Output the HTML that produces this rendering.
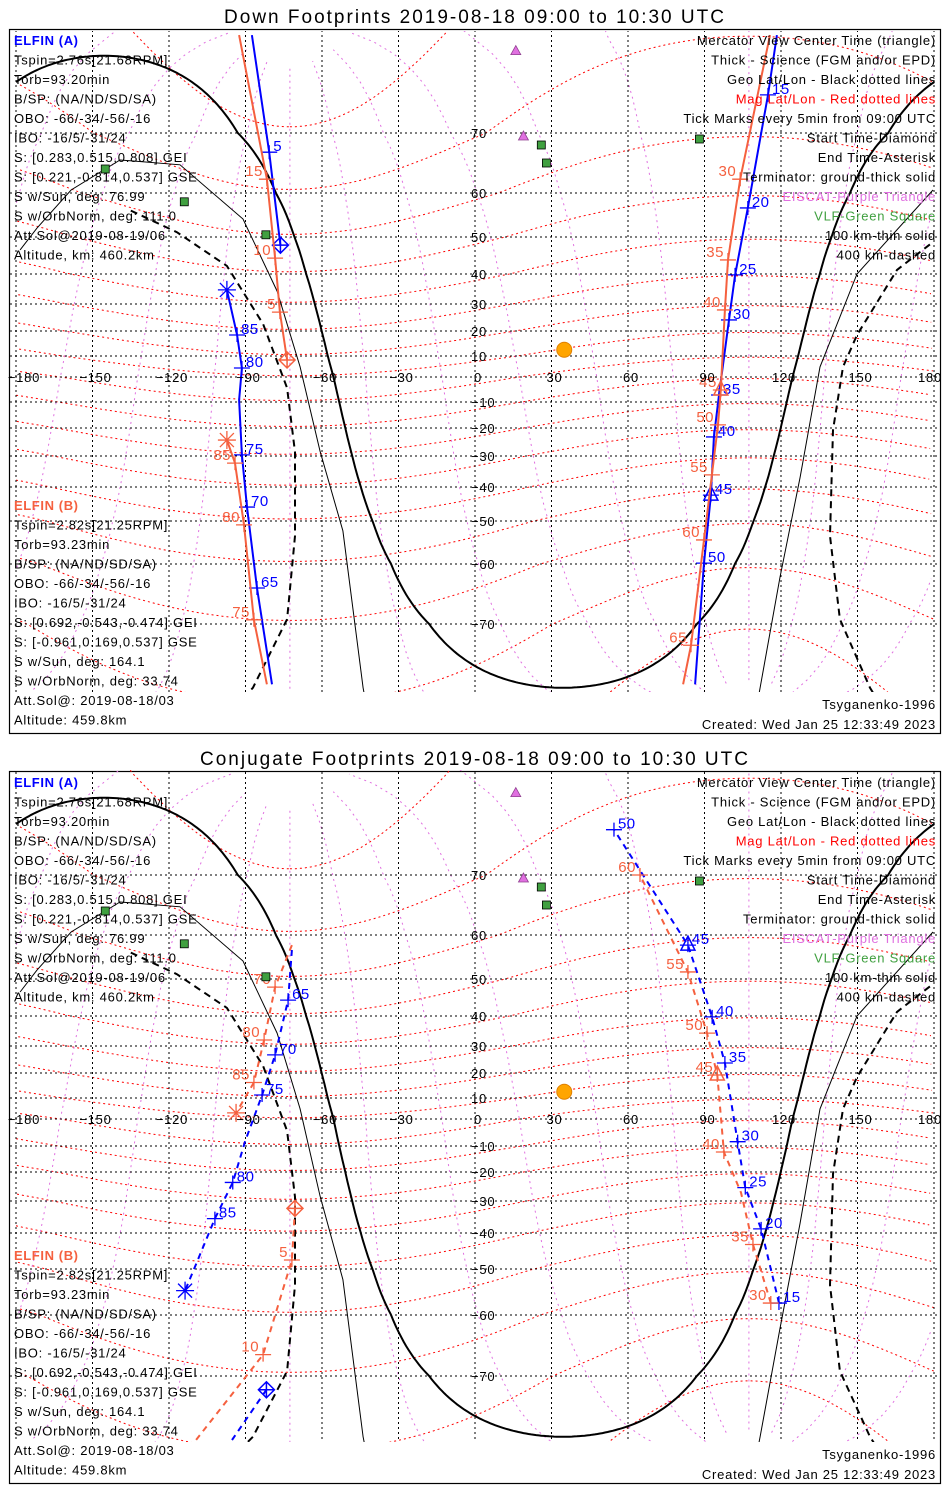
<!DOCTYPE html>
<html><head><meta charset="utf-8">
<style>
html,body{margin:0;padding:0;background:#fff;width:950px;height:1500px;overflow:hidden;}
svg{display:block;font-family:"Liberation Sans",sans-serif;}
.t{font-size:13px;fill:#000;letter-spacing:0.75px;}
.r{text-anchor:end;}
</style></head>
<body>
<svg id="chart" width="950" height="1500" viewBox="0 0 950 1500">
<defs>
<clipPath id="clipTop"><rect x="10" y="31" width="930" height="661"/></clipPath>
<clipPath id="clipBot"><rect x="10" y="770" width="930" height="672"/></clipPath>
</defs>
<g id="panels"></g>
</svg>
<script>
// ---- data ----
const latTicks=[-70,-60,-50,-40,-30,-20,-10,0,10,20,30,40,50,60,70];
const lonTicks=[-180,-150,-120,-90,-60,-30,0,30,60,90,120,150,180];
const sunLon=35, sunLat=12.5;
const termLon=34.5, termDecl=12.5;
const fsoatLon=[16,19], fsoatLat=[78,69.5];
const vlfLon=[26,28,-145,-114,-82,88], vlfLat=[68,65,64,58,50.5,69];
// 100 km (thin) and 400 km (dashed) terminator curves
const thinLeftLon=[-178.4,-171.8,-158.4,-139.2,-115.7,-91,-77.6,-68.6,-60.8,-51.8,-43.9,-40];
const thinLeftLat=[46.5,52,60.5,65.5,64.7,54.1,34.3,4.8,-28.2,-52.3,-77.5,-82];
const thinRightLon=[108,111.8,119.6,127.5,135.3,149.8,179.6];
const thinRightLat=[-82,-77.5,-62.2,-36.9,4.8,40,60.5];
const dashLeftLon=[-135,-116.9,-97.3,-83.1,-73.7,-70.6,-70.6,-73.7,-87.1,-95];
const dashLeftLat=[56,51.1,42.2,22.6,-4.4,-28.6,-53.5,-69.2,-77.5,-80];
const dashRightLon=[178.4,165.5,149.8,144.3,140.4,139.2,143.1,154.9,160];
const dashRightLat=[48,41.1,18.4,4.8,-20.7,-53.5,-69.2,-77.5,-80];
// top panel (down footprints) tracks: lon, lat, label
const topA=[
 {lon:[-76.3,-80.7,-87.5],lat:[47.8,66.8,79.5],lab:["","5",""]},
 {lon:[118.4,114.9,107,102,99.6,95.7,93.7,92.5,89.8,86.3],lat:[79.5,73.7,56.6,39.7,24.1,-7.2,-23.2,-42.4,-59.8,-77.1],lab:["","15","20","25","30","35","40","45","50",""]},
 {lon:[-79.6,-85.5,-89.4,-91.4,-92.5,-91.4,-93.3,-97.3],lat:[-77.1,-64,-45.9,-29.6,-9.2,4.3,18.4,34.7],lab:["","65","70","75","","80","85",""]}
];
const topB=[
 {lon:[-73.7,-76.5,-78.4,-81.6,-92.5],lat:[8.1,27,44.3,62.3,79.5],lab:["","5","10","15",""]},
 {lon:[115.7,104,99.2,98,96.4,95.3,92.9,89.8,84.7,81.6],lat:[79.5,62.3,43.8,27.8,-5.2,-18.8,-36.1,-54.4,-72.5,-77.1],lab:["","30","35","40","45","50","55","60","65",""]},
 {lon:[-81.6,-86.7,-90.6,-94.1,-97.3],lat:[-77.1,-69.3,-50.9,-32.3,-24.3],lab:["","75","80","85",""]}
];
// bottom panel (conjugate footprints)
const botA=[
 {lon:[-81.8,-95.3],lat:[-71.7,-77.9],lab:["",""]},
 {lon:[119.2,112.2,106,103,98,93,83.5,54.5],lat:[-57.4,-38.7,-25.4,-8.4,23.7,39.7,57.7,74.4],lab:["15","20","25","30","35","40","45","50"]},
 {lon:[-71.8,-73.3,-78.4,-83.5,-90.2,-95,-102,-113.7],lat:[56.6,44.3,26.7,11.2,-8.4,-23.6,-35.5,-54.7],lab:["","65","70","75","","80","85",""]}
];
const botB=[
 {lon:[-70.6,-71.8,-83.1,-109.4],lat:[-32.3,-47.5,-66.5,-77.9],lab:["","5","10",""]},
 {lon:[116,109,104.3,97.6,95,91,83.5,64.7],lat:[-57.4,-43.2,-27.1,-12.3,19.2,34.3,51.6,70],lab:["30","35","","40","45","50","55","60"]},
 {lon:[-71.8,-78.4,-82.7,-86.7,-93.7],lat:[57.7,47.8,32,16.2,2.9],lab:["","70","80","85",""]}
];
// latitude -> y tables (empirical projection, per panel)
const projLat=[90,80,70,60,50,40,30,20,10,0,-10,-20,-30,-40,-50,-60,-70,-80,-85,-90];
const projYTop=[-250,30,133,193,237,274,304,331,356,377,402,428,456,487,521,564,624,709,790,900];
const projYBot=[-250,30,133,193,237,274,304,331,356,377,404,430,459,491,527,573,634,715,790,900];
</script>
<script>
const NS="http://www.w3.org/2000/svg";
const R=Math.PI/180;
let projY=projYTop;
function X(lon){return 475+lon*2.55;}
function Yrel(lat){
  if(lat>=90)return projY[0];
  if(lat<=-90)return projY[projY.length-1];
  for(let i=0;i<projLat.length-1;i++){
    if(lat<=projLat[i]&&lat>=projLat[i+1]){
      const f=(projLat[i]-lat)/(projLat[i]-projLat[i+1]);
      return projY[i]+f*(projY[i+1]-projY[i]);
    }
  }
  return 0;
}
function mk(tag,attrs,parent){const e=document.createElementNS(NS,tag);for(const k in attrs)e.setAttribute(k,attrs[k]);parent.appendChild(e);return e;}
function pathFrom(pts,off){
  let d="",prev=null;
  pts.forEach(p=>{
    if(p===null){prev=null;return;}
    const x=X(p[0]).toFixed(1),y=(Yrel(p[1])+off).toFixed(1);
    if(prev&&Math.abs(p[0]-prev[0])<180)d+="L"+x+" "+y;else d+="M"+x+" "+y;
    prev=p;
  });
  return d;
}
function magToGeo(mlat,mlon){
  const th=(90-mlat)*R,ph=mlon*R,tp=9.4*R,lp=-72.6*R;
  let x=Math.sin(th)*Math.cos(ph),y=Math.sin(th)*Math.sin(ph),z=Math.cos(th);
  const x1=x*Math.cos(tp)+z*Math.sin(tp),z1=-x*Math.sin(tp)+z*Math.cos(tp),y1=y;
  const x2=x1*Math.cos(lp)-y1*Math.sin(lp),y2=x1*Math.sin(lp)+y1*Math.cos(lp);
  return [Math.atan2(y2,x2)/R,Math.asin(Math.max(-1,Math.min(1,z1)))/R];
}
function termPts(){
  const pts=[];
  for(let lon=-180;lon<=180;lon+=1){
    const v=-Math.cos((lon-termLon)*R)/Math.tan(termDecl*R);
    pts.push([lon,Math.atan(v)/R]);
  }
  return pts;
}
function zip(a,b){return a.map((v,i)=>[v,b[i]]);}
const leftA=["Tspin=2.76s[21.68RPM]","Torb=93.20min","B/SP: (NA/ND/SD/SA)","OBO: -66/-34/-56/-16","IBO: -16/5/-31/24","S: [0.283,0.515,0.808] GEI","S: [0.221,-0.814,0.537] GSE","S w/Sun, deg: 76.99","S w/OrbNorm, deg: 111.0","Att.Sol@2019-08-19/06","Altitude, km: 460.2km"];
const leftB=["Tspin=2.82s[21.25RPM]","Torb=93.23min","B/SP: (NA/ND/SD/SA)","OBO: -66/-34/-56/-16","IBO: -16/5/-31/24","S: [0.692,-0.543,-0.474] GEI","S: [-0.961,0.169,0.537] GSE","S w/Sun, deg: 164.1","S w/OrbNorm, deg: 33.74","Att.Sol@: 2019-08-18/03","Altitude: 459.8km"];
const rightT=[["Mercator View Center Time (triangle)","#000"],["Thick - Science (FGM and/or EPD)","#000"],["Geo Lat/Lon - Black dotted lines","#000"],["Mag Lat/Lon - Red dotted lines","#f00"],["Tick Marks every 5min from 09:00 UTC","#000"],["Start Time-Diamond","#000"],["End Time-Asterisk","#000"],["Terminator: ground-thick solid","#000"],["EISCAT-Purple Triangle","#e070e0"],["VLF-Green Square","#40a040"],["100 km-thin solid","#000"],["400 km-dashed","#000"]];

function drawPanel(name,top,title,trA,trB,clipId,mapBottom,dashed,table){
  projY=table;
  const root=document.getElementById("panels");
  const g=mk("g",{},root);
  
  
  const off=top-30;
  const tt=mk("text",{x:475,y:top-7,"text-anchor":"middle","font-size":"19","letter-spacing":"2"},g);
  tt.textContent=title;
  
  
  const frame=mk("rect",{x:9.5,y:top-0.5,width:931,height:(mapBottom-top)+42,fill:"none",stroke:"#000","stroke-width":1.2},g);
  
  
  const m=mk("g",{"clip-path":"url(#"+clipId+")"},g);
  
  
  for(let ml=-80;ml<=80;ml+=10){
    const pts=[];for(let mo=0;mo<=360;mo+=2)pts.push(magToGeo(ml,mo));
    const p=mk("path",{d:pathFrom(pts,off),fill:"none",stroke:"#f00","stroke-width":1,"stroke-dasharray":"2 3"},m);
    
    
  }
  for(let mo=0;mo<360;mo+=30){
    const pts=[];for(let ml=-86;ml<=86;ml+=2)pts.push(magToGeo(ml,mo));
    const p=mk("path",{d:pathFrom(pts,off),fill:"none",stroke:"#e070e0","stroke-width":1,"stroke-dasharray":"2 4"},m);
    
    
  }
  latTicks.forEach(la=>{
    const y=Yrel(la)+off;
    const l=mk("line",{x1:10,x2:940,y1:y,y2:y,stroke:"#000","stroke-width":1,"stroke-dasharray":"2 3"},m);
    
    
  });
  lonTicks.forEach(lo=>{
    const x=X(lo);
    const l=mk("line",{x1:x,x2:x,y1:top,y2:mapBottom,stroke:"#000","stroke-width":1,"stroke-dasharray":"2 3"},m);
    
    
  });
  const tg=mk("path",{d:pathFrom(termPts(),off),fill:"none",stroke:"#000","stroke-width":2},m);
  
  
  [[thinLeftLon,thinLeftLat],[thinRightLon,thinRightLat]].forEach(c=>{
    const p=mk("path",{d:pathFrom(zip(c[0],c[1]),off),fill:"none",stroke:"#000","stroke-width":1},m);
    
    
  });
  [[dashLeftLon,dashLeftLat],[dashRightLon,dashRightLat]].forEach(c=>{
    const p=mk("path",{d:pathFrom(zip(c[0],c[1]),off),fill:"none",stroke:"#000","stroke-width":2,"stroke-dasharray":"7 5"},m);
    
    
  });
  function track(tr,color,sc){
    tr.forEach((seg)=>{
      const pts=seg.lon.map((lo,i)=>[lo,seg.lat[i]]);
      const p=mk("path",{d:pathFrom(pts,off),fill:"none",stroke:color,"stroke-width":2,"stroke-dasharray":dashed?"6 5":""},m);
      
      
      seg.lab.forEach((lb,i)=>{
        if(!lb)return;
        const x=X(seg.lon[i]),y=Yrel(seg.lat[i])+off;
        const tk=mk("path",{d:`M${x-8} ${y}H${x+8}M${x} ${y-7}V${y+7}`,stroke:color,"stroke-width":1.3},m);
        
        
        const isA=sc==="elfin-a";
        const tx=mk("text",{x:isA?x+4:x-4,y:y+(isA?-1:-3),"font-size":"15","letter-spacing":"0.5",fill:color,"text-anchor":isA?"start":"end"},m);
        tx.textContent=lb;
        
        
        if(lb==="45"){
          const tri=mk("path",{d:`M${x} ${y-9}L${x+7} ${y+5}L${x-7} ${y+5}Z`,fill:"none",stroke:color,"stroke-width":1.5},m);
          
          
        }
      });
    });
    const s=tr[0],e=tr[tr.length-1];
    const sx=X(s.lon[0]),sy=Yrel(s.lat[0])+off;
    const dm=mk("path",{d:`M${sx} ${sy-8}L${sx+8} ${sy}L${sx} ${sy+8}L${sx-8} ${sy}ZM${sx-8} ${sy}H${sx+8}M${sx} ${sy-8}V${sy+8}`,fill:"none",stroke:color,"stroke-width":1.5},m);
    
    
    const n=e.lon.length-1,ex=X(e.lon[n]),ey=Yrel(e.lat[n])+off;
    const as=mk("path",{d:`M${ex-9} ${ey}H${ex+9}M${ex} ${ey-9}V${ey+9}M${ex-7} ${ey-7}L${ex+7} ${ey+7}M${ex-7} ${ey+7}L${ex+7} ${ey-7}`,stroke:color,"stroke-width":1.3},m);
    
    
  }
  track(trA,"#0000ff","elfin-a");
  track(trB,"#f5603f","elfin-b");
  const sun=mk("circle",{cx:X(sunLon),cy:Yrel(sunLat)+off,r:7.5,fill:"#ffa500",stroke:"#e08000"},m);
  
  
  fsoatLon.forEach((lo,i)=>{
    const x=X(lo),y=Yrel(fsoatLat[i])+off;
    const t=mk("path",{d:`M${x} ${y-5}L${x+5} ${y+4}L${x-5} ${y+4}Z`,fill:"#e070e0",stroke:"#904090","stroke-width":0.8},m);
    
    
  });
  vlfLon.forEach((lo,i)=>{
    const x=X(lo),y=Yrel(vlfLat[i])+off;
    const s=mk("rect",{x:x-4,y:y-4,width:8,height:8,fill:"#40a040",stroke:"#000","stroke-width":0.8},m);
    
    
  });
  lonTicks.forEach(lo=>{
    const t=mk("text",{x:X(lo)+(lo===-180?8:lo===180?-4:3),y:Yrel(0)+off+5,"text-anchor":"middle",class:"t"},g);
    t.textContent=lo<0?"\u2212"+(-lo):String(lo);
    
    
  });
  latTicks.forEach(la=>{
    if(la===0)return;
    const t=mk("text",{x:471,y:Yrel(la)+off+5,class:"t"},g);
    t.textContent=la<0?"\u2212"+(-la):String(la);
    
    
  });
  const ha=mk("text",{x:14,y:top+15,"font-size":"13","font-weight":"bold",fill:"#0000ff","letter-spacing":"0.6"},g);
  ha.textContent="ELFIN (A)";
  
  
  leftA.forEach((s,i)=>{
    const t=mk("text",{x:14,y:top+34.5+i*19.5,class:"t"},g);
    t.textContent=s;
    
    
  });
  const bTop=mapBottom-182;
  const hb=mk("text",{x:14,y:bTop,"font-size":"13","font-weight":"bold",fill:"#f5603f","letter-spacing":"0.6"},g);
  hb.textContent="ELFIN (B)";
  
  
  leftB.forEach((s,i)=>{
    const t=mk("text",{x:14,y:bTop+19.5+i*19.5,class:"t"},g);
    t.textContent=s;
    
    
  });
  rightT.forEach((s,i)=>{
    const t=mk("text",{x:936,y:top+15+i*19.5,class:"t r",style:"fill:"+s[1]},g);
    t.textContent=s[0];
    
    
  });
  const m1=mk("text",{x:936,y:mapBottom+17,class:"t r"},g);
  m1.textContent="Tsyganenko-1996";
  
  
  const m2=mk("text",{x:936,y:mapBottom+37,class:"t r"},g);
  m2.textContent="Created: Wed Jan 25 12:33:49 2023";
  
  
}
drawPanel("down-footprints-panel",30,"Down Footprints 2019-08-18 09:00 to 10:30 UTC",topA,topB,"clipTop",692,false,projYTop);
drawPanel("conjugate-footprints-panel",772,"Conjugate Footprints 2019-08-18 09:00 to 10:30 UTC",botA,botB,"clipBot",1442,true,projYBot);
</script>
</body></html>
